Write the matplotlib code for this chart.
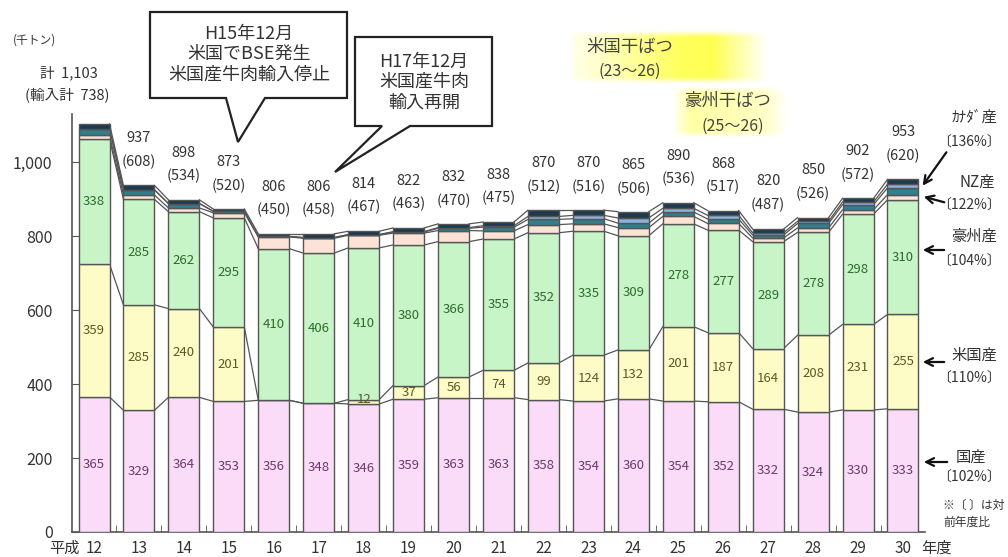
import numpy as np
import matplotlib
matplotlib.use("Agg")
import matplotlib.pyplot as plt
from matplotlib.patches import Polygon

plt.rcParams['font.family'] = ['Noto Sans CJK JP', 'DejaVu Sans']

# ---- データ (千トン) ----
years = ["12", "13", "14", "15", "16", "17", "18", "19", "20", "21",
         "22", "23", "24", "25", "26", "27", "28", "29", "30"]
total = [1103, 937, 898, 873, 806, 806, 814, 822, 832, 838,
         870, 870, 865, 890, 868, 820, 850, 902, 953]
import_total = [738, 608, 534, 520, 450, 458, 467, 463, 470, 475,
                512, 516, 506, 536, 517, 487, 526, 572, 620]
domestic = [365, 329, 364, 353, 356, 348, 346, 359, 363, 363,
            358, 354, 360, 354, 352, 332, 324, 330, 333]
usa = [359, 285, 240, 201, 0, 0, 12, 37, 56, 74,
       99, 124, 132, 201, 187, 164, 208, 231, 255]
australia = [338, 285, 262, 295, 410, 406, 410, 380, 366, 355,
             352, 335, 309, 278, 277, 289, 278, 298, 310]
nz = [10, 12, 10, 14, 32, 40, 34, 32, 30, 22,
      22, 20, 22, 20, 18, 10, 12, 12, 14]
canada = [18, 14, 12, 4, 1, 2, 2, 3, 6, 10,
          14, 14, 12, 12, 12, 8, 12, 14, 18]
mexico = [0, 0, 0, 0, 0, 0, 0, 1, 2, 4,
          8, 9, 14, 10, 10, 6, 6, 7, 10]
other = [13, 12, 10, 6, 7, 10, 9, 10, 10, 10,
         17, 14, 17, 15, 13, 10, 10, 10, 13]

series = [domestic, usa, australia, nz, canada, mexico, other]
colors = ["#fadcf8", "#fdfcc6", "#c8f5c8", "#fde3d6", "#2f7f8c", "#8fb0d8", "#1e3a4e"]
label_colors = ["#6b3a6b", "#5c5a22", "#2d6a2d"]

W, H = 1008, 557
def fpx(x, y):
    return x / W, 1 - y / H

fig = plt.figure(figsize=(W / 100, H / 100), dpi=100)
ax = fig.add_axes([72 / W, 1 - 532 / H, (925 - 72) / W, (532 - 114) / H])

x = np.arange(len(years))
bw = 0.69
bottom = np.zeros(len(years))
tops = []
for vals, c in zip(series, colors):
    vals = np.array(vals, dtype=float)
    ax.bar(x, vals, bw, bottom=bottom, color=c, edgecolor="#555555", linewidth=1.0, zorder=3)
    bottom = bottom + vals
    tops.append(bottom.copy())

# 区分線 (各系列の上端を隣の棒とつなぐ)
for t in tops:
    for i in range(len(years) - 1):
        ax.plot([x[i] + bw / 2, x[i + 1] - bw / 2], [t[i], t[i + 1]],
                color="#555555", lw=0.9, zorder=2)

# 棒の中の数値
cum = np.zeros(len(years))
for k, vals in enumerate(series[:3]):
    for i, v in enumerate(vals):
        if v > 0:
            yy = cum[i] + v / 2
            if v < 20:
                yy = cum[i] + v
            ax.text(x[i], yy, str(v), ha="center", va="center", fontsize=9.5,
                    color=label_colors[k], zorder=5)
    cum = cum + np.array(vals)

# 合計と輸入計
for i in range(1, len(years)):
    ax.annotate(f"({import_total[i]})", (x[i], total[i]), xytext=(0, 17),
                textcoords="offset points", ha="center", va="center",
                fontsize=10.5, color="#333333")
    ax.annotate(f"{total[i]}", (x[i], total[i]), xytext=(0, 34),
                textcoords="offset points", ha="center", va="center",
                fontsize=10.5, color="#333333")
ax.annotate(f"(輸入計  {import_total[0]})", (x[0], total[0]), xytext=(-19, 21),
            textcoords="offset points", ha="center", va="center",
            fontsize=10.5, color="#333333", annotation_clip=False)
ax.annotate(f"計  {total[0]:,}", (x[0], total[0]), xytext=(-18, 37),
            textcoords="offset points", ha="center", va="center",
            fontsize=10.5, color="#333333", annotation_clip=False)

ax.set_xlim(-0.49, len(years) - 0.51)
ax.set_ylim(0, 1130)
ax.set_yticks(range(0, 1001, 200))
ax.set_yticklabels(["0", "200", "400", "600", "800", "1,000"])
ax.set_xticks(x)
ax.set_xticklabels(years)
ax.set_xticks(x[:-1] + 0.5, minor=True)
ax.tick_params(axis="x", which="major", length=0, pad=6, labelsize=11, labelcolor="#333333")
ax.tick_params(axis="x", which="minor", direction="in", length=5, color="#555555")
ax.tick_params(axis="y", direction="in", length=5, pad=14, labelsize=11.5,
               labelcolor="#333333", color="#555555")
for s in ["top", "right"]:
    ax.spines[s].set_visible(False)
for s in ["left", "bottom"]:
    ax.spines[s].set_color("#555555")
    ax.spines[s].set_linewidth(1.2)

fig.text(*fpx(64, 548), "平成", ha="center", va="center", fontsize=11, color="#333333")
fig.text(*fpx(936, 548), "年度", ha="center", va="center", fontsize=11, color="#333333")
fig.text(*fpx(35, 40), "(千トン)", ha="center", va="center", fontsize=8.5, color="#333333")

# 吹き出し
def callout(pts, lines, cx, cy, fs):
    poly = Polygon([fpx(a, b) for a, b in pts], closed=True, transform=fig.transFigure,
                   facecolor="white", edgecolor="#222222", lw=1.6, zorder=10)
    fig.patches.append(poly)
    fig.text(*fpx(cx, cy), lines, ha="center", va="center", fontsize=fs,
             color="#333333", linespacing=1.15, zorder=11)

callout([(150, 12), (347, 12), (347, 98), (265, 98), (238, 142), (226, 98), (150, 98)],
        "H15年12月\n米国でBSE発生\n米国産牛肉輸入停止", 249, 54, 13)
callout([(355, 37), (492, 37), (492, 126), (410, 126), (335, 172), (382, 126), (355, 126)],
        "H17年12月\n米国産牛肉\n輸入再開", 424, 82, 13)

# 干ばつの注記 (黄色のぼかし背景)
def glow(x0, y0, x1, y1, stops, alphas):
    gx = fig.add_axes([x0 / W, 1 - y1 / H, (x1 - x0) / W, (y1 - y0) / H], zorder=0)
    u = np.linspace(0, 1, 200)
    a = np.interp(u, stops, alphas)
    v = np.linspace(0, 1, 50)
    av = np.clip(np.minimum(v, 1 - v) * 8, 0, 1)
    img = np.zeros((50, 200, 4))
    img[..., 0] = 1.0
    img[..., 1] = 1.0
    img[..., 2] = 0.2
    img[..., 3] = av[:, None] * a[None, :]
    gx.imshow(img, aspect="auto", interpolation="bilinear")
    gx.axis("off")

glow(572, 30, 768, 84, [0, 0.55, 0.72, 1], [0.1, 0.8, 0.85, 0])
glow(675, 86, 785, 138, [0, 0.15, 0.8, 1], [0.1, 0.45, 0.3, 0.05])
fig.text(*fpx(630, 47), "米国干ばつ", ha="center", va="center", fontsize=12.5, color="#444444")
fig.text(*fpx(630, 71), "(23～26)", ha="center", va="center", fontsize=11.5, color="#444444")
fig.text(*fpx(728, 101), "豪州干ばつ", ha="center", va="center", fontsize=12.5, color="#444444")
fig.text(*fpx(733, 126), "(25～26)", ha="center", va="center", fontsize=11.5, color="#444444")

# 右側の凡例と矢印
right_labels = [("ｶﾅﾀﾞ産", 974, 117), ("〔136%〕", 969, 143),
                ("NZ産", 977, 182), ("〔122%〕", 969, 206),
                ("豪州産", 974, 236), ("〔104%〕", 969, 262),
                ("米国産", 974, 355), ("〔110%〕", 969, 379),
                ("国産", 971, 457), ("〔102%〕", 969, 478)]
for txt, px, py in right_labels:
    fs = 10 if txt.startswith("〔") else 11
    fig.text(*fpx(px, py), txt, ha="center", va="center", fontsize=fs, color="#333333")
fig.text(*fpx(943, 505), "※〔 〕は対", ha="left", va="center", fontsize=8.5, color="#333333")
fig.text(*fpx(943, 522), "前年度比", ha="left", va="center", fontsize=8.5, color="#333333")

arrows = [((948, 150), (921, 188)), ((947, 203), (921, 196)), ((947, 250), (920, 250)),
          ((947, 362), (920, 362)), ((950, 462), (921, 462))]
for (tx, ty), (hx, hy) in arrows:
    fig.add_artist(matplotlib.patches.FancyArrowPatch(
        fpx(tx, ty), fpx(hx, hy), transform=fig.transFigure,
        arrowstyle="->", mutation_scale=14, lw=1.6, color="#111111"))

fig.savefig("out.png", dpi=100)
